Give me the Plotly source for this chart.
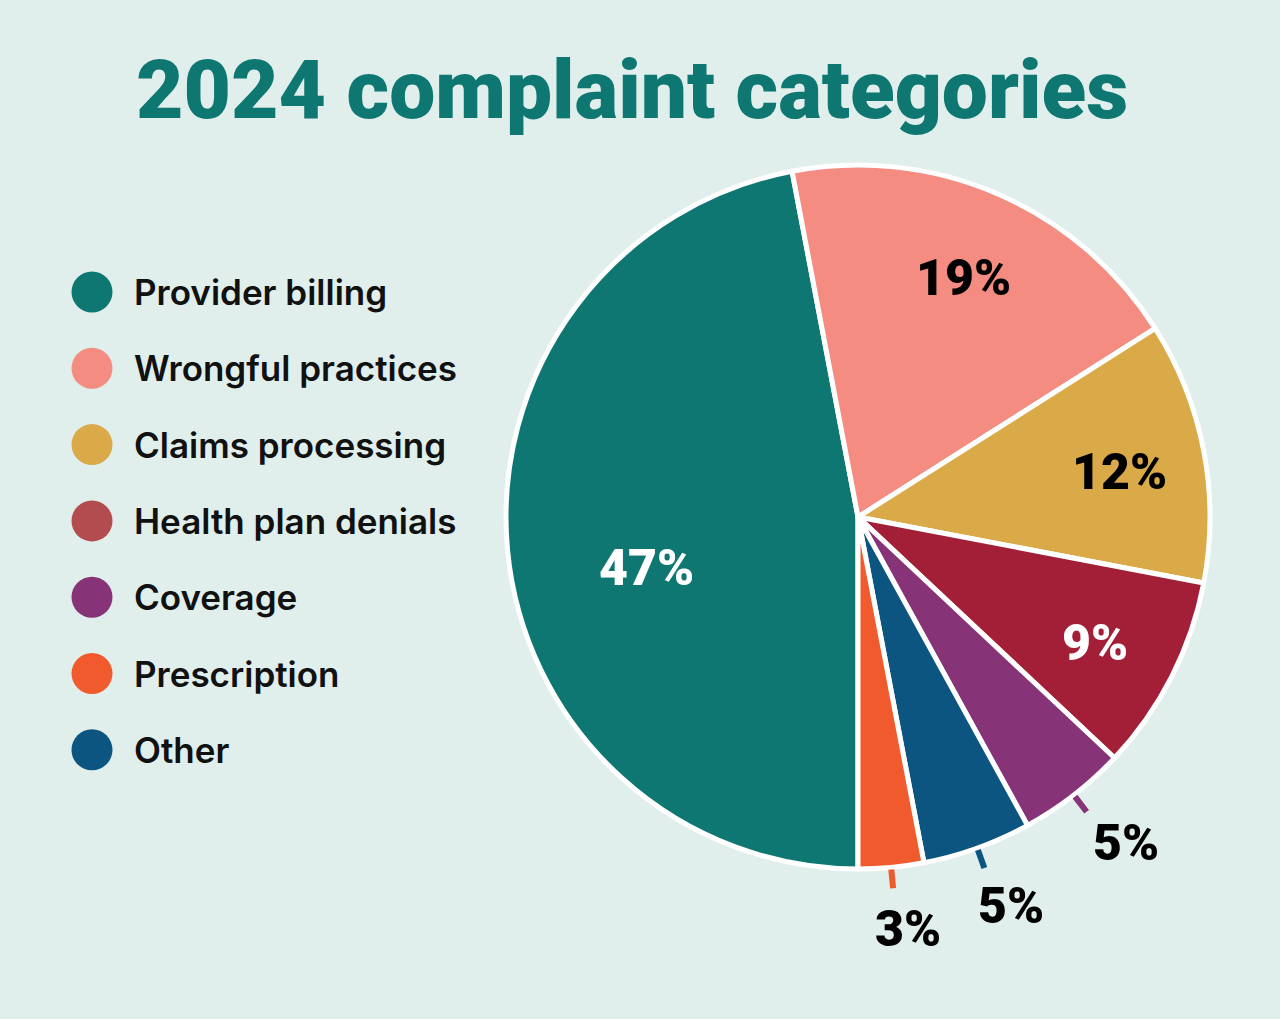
import math
import plotly.graph_objects as go

# ---- data ----
categories = ["Provider billing", "Wrongful practices", "Claims processing",
              "Health plan denials", "Coverage", "Prescription", "Other"]
values = [47, 19, 12, 9, 5, 3, 5]
pie_colors = ["#0E7771", "#F48C82", "#D9AA47", "#A31E37", "#873377", "#F05A2D", "#0C5580"]
legend_colors = ["#0E7771", "#F48C82", "#D9AA47", "#B24C4E", "#873377", "#F05A2D", "#0C5580"]
pie_order = ["Provider billing", "Wrongful practices", "Claims processing",
             "Health plan denials", "Coverage", "Other", "Prescription"]
label_colors = {"Provider billing": "white", "Wrongful practices": "black",
                "Claims processing": "black", "Health plan denials": "white",
                "Coverage": "black", "Other": "black", "Prescription": "black"}
title_text = "2024 complaint categories"

BG = "#E0EEEC"
W, H = 1280, 1019
CX, CY, R = 858, 517, 352
HEAVY = "Roboto"
BODY = "Inter"

idx = [categories.index(c) for c in pie_order]
p_vals = [values[i] for i in idx]
p_cols = [pie_colors[i] for i in idx]

fig = go.Figure()

fig.add_trace(go.Pie(
    labels=pie_order, values=p_vals, sort=False, direction="clockwise", rotation=180,
    marker=dict(colors=p_cols, line=dict(color="white", width=5)),
    textinfo="none", hoverinfo="label+percent", showlegend=False,
    domain=dict(x=[(CX - R) / W, (CX + R) / W], y=[(H - CY - R) / H, (H - CY + R) / H]),
))

leg_y = [292 + i * 76.3 for i in range(len(categories))]
fig.add_trace(go.Scatter(
    x=[92] * len(categories), y=leg_y, mode="markers",
    marker=dict(size=41, color=legend_colors, line=dict(width=0)),
    hoverinfo="skip", showlegend=False,
))

annotations = []
shapes = []
for c, yy in zip(categories, leg_y):
    annotations.append(dict(x=132, y=yy, xref="x", yref="y", text=c, showarrow=False,
                            xanchor="left", yanchor="middle",
                            font=dict(family=BODY, size=35, color="#111111", weight=600)))

total = sum(p_vals)
cum = 0.0
for name, v, col in zip(pie_order, p_vals, p_cols):
    a0 = 180 + cum / total * 360
    cum += v
    a1 = 180 + cum / total * 360
    mid = math.radians((a0 + a1) / 2)
    sx, sy = math.sin(mid), -math.cos(mid)
    xs, ys = 0, -5
    if v >= 40:
        rr = 0.62 * R
        ys = -30
        xs = 6
    elif v >= 9:
        rr = 0.755 * R
    else:
        rr = 1.19 * R
        xs, ys = 11, 5
        shapes.append(dict(type="line", xref="x", yref="y",
                           x0=CX + sx * (R + 2), y0=CY + sy * (R + 2),
                           x1=CX + sx * (R + 21), y1=CY + sy * (R + 21),
                           line=dict(color=col, width=6)))
    annotations.append(dict(x=CX + sx * rr, y=CY + sy * rr, xref="x", yref="y",
                            xshift=xs, yshift=ys,
                            text=f"{v}%", showarrow=False, xanchor="center", yanchor="middle",
                            font=dict(family=HEAVY, size=50, color=label_colors[name], weight=900)))

annotations.append(dict(x=632, y=90, xref="x", yref="y", text=title_text, showarrow=False,
                        xanchor="center", yanchor="middle",
                        font=dict(family=HEAVY, size=82, color="#0E7771", weight=900)))

fig.update_layout(
    width=W, height=H, margin=dict(l=0, r=0, t=0, b=0),
    paper_bgcolor=BG, plot_bgcolor=BG,
    xaxis=dict(range=[0, W], visible=False, domain=[0, 1], fixedrange=True),
    yaxis=dict(range=[H, 0], visible=False, domain=[0, 1], fixedrange=True),
    annotations=annotations, shapes=shapes, showlegend=False,
)

fig.write_html("out.html", config={"displayModeBar": False},
               post_script="document.body.style.margin='0';document.body.style.overflow='hidden';")
